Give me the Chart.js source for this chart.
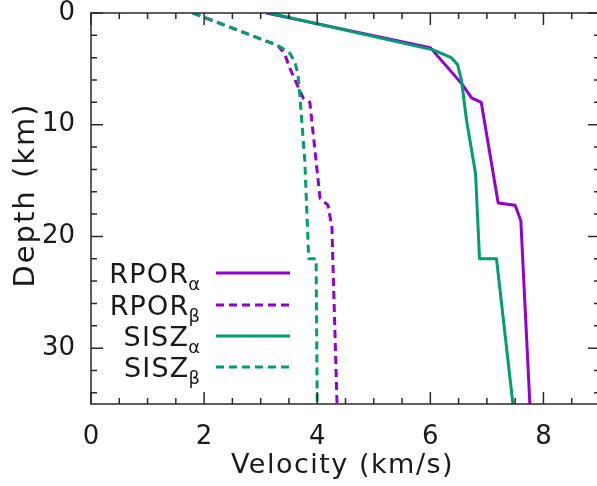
<!DOCTYPE html>
<html>
<head>
<meta charset="utf-8">
<script src="https://cdn.jsdelivr.net/npm/chart.js@4.4.1/dist/chart.umd.min.js"></script>
<style>
  html, body { margin: 0; padding: 0; background: #fff; overflow: hidden; }
  canvas { display: block; }
</style>
</head>
<body>
<canvas id="chart" width="601" height="486"></canvas>
<script>
// valeurs : vitesse (km/s) en fonction de la profondeur (km)
const seriesNames = ['RPOR', 'RPOR', 'SISZ', 'SISZ'];
const seriesSubs = ['α', 'β', 'α', 'β'];

const rporAlphaDepth = [0, 3.1, 6.3, 7.6, 8.0, 17.0, 17.2, 18.6, 35];
const rporAlphaVel   = [3.1, 6.0, 6.55, 6.73, 6.9, 7.2, 7.5, 7.6, 7.76];

const rporBetaDepth = [0, 2.9, 3.6, 5.0, 7.6, 8.0, 16.6, 17.2, 19.2, 35];
const rporBetaVel   = [1.8, 3.3, 3.42, 3.52, 3.75, 3.87, 4.05, 4.19, 4.26, 4.35];

const siszAlphaDepth = [0, 3.3, 4.0, 4.6, 6.0, 9.6, 14.4, 22, 22, 35];
const siszAlphaVel   = [3.15, 6.05, 6.37, 6.48, 6.55, 6.64, 6.8, 6.87, 7.17, 7.46];

const siszBetaDepth = [0, 2.9, 3.5, 4.3, 5.5, 7.2, 13.2, 19.5, 22, 22, 35];
const siszBetaVel   = [1.8, 3.3, 3.5, 3.6, 3.66, 3.69, 3.78, 3.83, 3.85, 3.98, 4.0];

// graduations
const xTickLabels = [0, 2, 4, 6, 8];
const yTickLabels = [0, 10, 20, 30];
const xMin = 0, xMax = 9, xMinorStep = 0.5;
const yMin = 0, yMax = 35, yMinorStep = 2;
const xTitle = 'Velocity (km/s)';
const yTitle = 'Depth (km)';

const purple = '#9400d3';
const green = '#009e73';
const axisColor = '#2a2a2a';
const textColor = '#1a1a1a';
const fontFamily = "'DejaVu Sans', sans-serif";

function toPoints(vel, depth) {
  return vel.map((v, i) => ({ x: v, y: depth[i] }));
}

function buildTicks(min, max, step) {
  const ticks = [];
  const n = Math.round((max - min) / step);
  for (let i = 0; i <= n; i++) ticks.push({ value: min + i * step });
  return ticks;
}

// ticks tournés vers l'intérieur, sur les quatre côtés (style gnuplot)
const innerTicks = {
  id: 'innerTicks',
  afterDraw(chart) {
    const { ctx, chartArea: a, scales } = chart;
    ctx.save();
    ctx.strokeStyle = axisColor;
    ctx.lineWidth = 1.5;
    ctx.beginPath();
    scales.x.ticks.forEach(t => {
      const px = scales.x.getPixelForValue(t.value);
      const len = xTickLabels.includes(t.value) ? 12 : 6;
      ctx.moveTo(px, a.bottom); ctx.lineTo(px, a.bottom - len);
      ctx.moveTo(px, a.top); ctx.lineTo(px, a.top + len);
    });
    scales.y.ticks.forEach(t => {
      const py = scales.y.getPixelForValue(t.value);
      const len = yTickLabels.includes(t.value) ? 12 : 6;
      ctx.moveTo(a.left, py); ctx.lineTo(a.left + len, py);
      ctx.moveTo(a.right, py); ctx.lineTo(a.right - len, py);
    });
    ctx.stroke();
    ctx.strokeRect(a.left, a.top, a.right - a.left, a.bottom - a.top);
    ctx.restore();
  }
};

// titres des axes
const axisTitles = {
  id: 'axisTitles',
  afterDraw(chart) {
    const { ctx, chartArea: a } = chart;
    ctx.save();
    ctx.fillStyle = textColor;
    ctx.textAlign = 'center';
    ctx.textBaseline = 'middle';
    ctx.font = '27px ' + fontFamily;
    ctx.letterSpacing = '1.5px';
    ctx.fillText(xTitle, (a.left + a.right) / 2 - 3, 466);
    ctx.font = '29px ' + fontFamily;
    ctx.letterSpacing = '2px';
    ctx.translate(26, 195);
    ctx.rotate(-Math.PI / 2);
    ctx.fillText(yTitle, 0, 0);
    ctx.restore();
  }
};

// légende dans le cadre avec indices grecs
const subLegend = {
  id: 'subLegend',
  afterDraw(chart) {
    const { ctx } = chart;
    const textRight = 200, lineX0 = 216, lineX1 = 290;
    const rows = [273, 305, 336, 367];
    ctx.save();
    chart.data.datasets.forEach((ds, i) => {
      const y = rows[i];
      ctx.fillStyle = textColor;
      ctx.textBaseline = 'alphabetic';
      ctx.letterSpacing = '0px';
      ctx.font = '18px ' + fontFamily;
      const subW = ctx.measureText(seriesSubs[i]).width;
      ctx.textAlign = 'left';
      ctx.fillText(seriesSubs[i], textRight - subW, y + 17);
      ctx.font = '27px ' + fontFamily;
      ctx.letterSpacing = '1.2px';
      ctx.textAlign = 'right';
      ctx.fillText(seriesNames[i], textRight - subW + 1, y + 10);
      ctx.strokeStyle = ds.borderColor;
      ctx.lineWidth = ds.borderWidth;
      ctx.setLineDash(ds.borderDash || []);
      ctx.beginPath();
      ctx.moveTo(lineX0, y);
      ctx.lineTo(lineX1, y);
      ctx.stroke();
    });
    ctx.restore();
  }
};

const ctx = document.getElementById('chart').getContext('2d');
new Chart(ctx, {
  type: 'scatter',
  data: {
    datasets: [
      { label: 'RPORα', data: toPoints(rporAlphaVel, rporAlphaDepth), borderColor: purple, borderWidth: 3, order: 1 },
      { label: 'RPORβ', data: toPoints(rporBetaVel, rporBetaDepth), borderColor: purple, borderWidth: 3, borderDash: [8, 5], order: 1 },
      { label: 'SISZα', data: toPoints(siszAlphaVel, siszAlphaDepth), borderColor: green, borderWidth: 3, order: 0 },
      { label: 'SISZβ', data: toPoints(siszBetaVel, siszBetaDepth), borderColor: green, borderWidth: 3, borderDash: [8, 5], order: 0 }
    ].map(ds => Object.assign(ds, {
      showLine: true, pointRadius: 0, tension: 0, fill: false, borderJoinStyle: 'round'
    }))
  },
  options: {
    responsive: false,
    animation: false,
    layout: { padding: { top: 13, right: 1, left: 0, bottom: 0 } },
    plugins: { legend: { display: false }, tooltip: { enabled: false } },
    scales: {
      x: {
        type: 'linear', min: xMin, max: xMax,
        afterBuildTicks: s => { s.ticks = buildTicks(xMin, xMax, xMinorStep); },
        afterFit: s => { s.height = 82; s.paddingLeft = 0; s.paddingRight = 0; },
        grid: { display: false, drawTicks: false },
        border: { display: false },
        ticks: {
          autoSkip: false, maxRotation: 0, padding: 18, color: textColor,
          font: { family: fontFamily, size: 26 },
          callback: v => xTickLabels.includes(v) ? String(v) : ''
        }
      },
      y: {
        type: 'linear', min: yMin, max: yMax, reverse: true,
        afterBuildTicks: s => { s.ticks = buildTicks(yMin, yMax - 1, yMinorStep); },
        afterFit: s => { s.width = 91; s.paddingTop = 0; s.paddingBottom = 0; },
        grid: { display: false, drawTicks: false },
        border: { display: false },
        ticks: {
          autoSkip: false, padding: 16, color: textColor,
          font: { family: fontFamily, size: 26 },
          callback: v => yTickLabels.includes(v) ? String(v) : ''
        }
      }
    }
  },
  plugins: [innerTicks, axisTitles, subLegend]
});
</script>
</body>
</html>
